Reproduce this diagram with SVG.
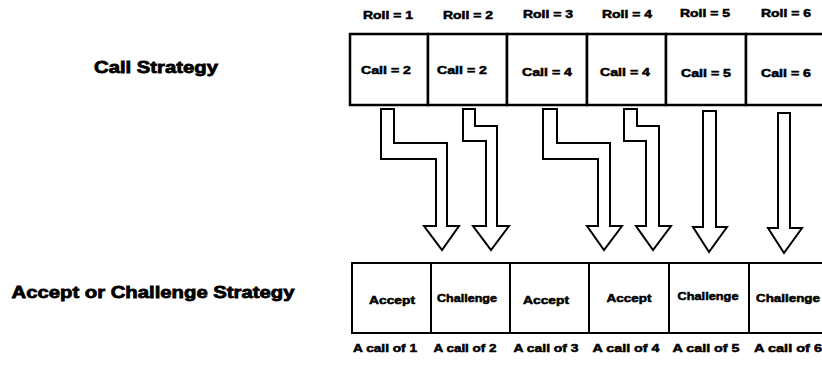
<svg xmlns="http://www.w3.org/2000/svg" width="822" height="365" viewBox="0 0 822 365">
<style>
text{font-family:"Liberation Sans",Arial,sans-serif;font-weight:bold;fill:#000;stroke:#000;stroke-width:0.5;text-anchor:middle}
.big{font-size:17px;stroke-width:0.8}
.sm{font-size:10.5px}
.cellT{fill:#fff;stroke:#000;stroke-width:2.5}
.cellB{fill:#fff;stroke:#000;stroke-width:2}
.arr{fill:#fff;stroke:#000;stroke-width:2;stroke-linejoin:miter}
</style>
<rect width="822" height="365" fill="#fff"/>
<g id="label-call-strategy"><text class="big" x="156" y="73" textLength="124" lengthAdjust="spacingAndGlyphs">Call Strategy</text></g>
<g id="label-accept-strategy"><text class="big" x="153" y="298" font-size="18" textLength="283" lengthAdjust="spacingAndGlyphs">Accept or Challenge Strategy</text></g>

<g id="call1"><text class="sm" x="388" y="19" textLength="50" lengthAdjust="spacingAndGlyphs">Roll = 1</text><rect class="cellT" x="350" y="34" width="78" height="71"/><text class="sm" x="386" y="74" textLength="50" lengthAdjust="spacingAndGlyphs">Call = 2</text></g>
<g id="call2"><text class="sm" x="468" y="19" textLength="50" lengthAdjust="spacingAndGlyphs">Roll = 2</text><rect class="cellT" x="428" y="34" width="79" height="71"/><text class="sm" x="462" y="74" textLength="50" lengthAdjust="spacingAndGlyphs">Call = 2</text></g>
<g id="call3"><text class="sm" x="548" y="18" textLength="50" lengthAdjust="spacingAndGlyphs">Roll = 3</text><rect class="cellT" x="507" y="34" width="80" height="71"/><text class="sm" x="547" y="76" textLength="50" lengthAdjust="spacingAndGlyphs">Call = 4</text></g>
<g id="call4"><text class="sm" x="627" y="18" textLength="50" lengthAdjust="spacingAndGlyphs">Roll = 4</text><rect class="cellT" x="587" y="34" width="79" height="71"/><text class="sm" x="625" y="76" textLength="50" lengthAdjust="spacingAndGlyphs">Call = 4</text></g>
<g id="call5"><text class="sm" x="705" y="17" textLength="50" lengthAdjust="spacingAndGlyphs">Roll = 5</text><rect class="cellT" x="666" y="34" width="80" height="71"/><text class="sm" x="706" y="77" textLength="50" lengthAdjust="spacingAndGlyphs">Call = 5</text></g>
<g id="call6"><text class="sm" x="786" y="17" textLength="50" lengthAdjust="spacingAndGlyphs">Roll = 6</text><rect class="cellT" x="746" y="34" width="82" height="71"/><text class="sm" x="786" y="77" textLength="50" lengthAdjust="spacingAndGlyphs">Call = 6</text></g>

<g id="resp1"><rect class="cellB" x="352" y="263" width="79" height="70"/><text class="sm" x="392" y="304" textLength="46" lengthAdjust="spacingAndGlyphs">Accept</text><text class="sm" x="385" y="352" textLength="64" lengthAdjust="spacingAndGlyphs">A call of 1</text></g>
<g id="resp2"><rect class="cellB" x="431" y="263" width="79" height="70"/><text class="sm" x="467" y="302" textLength="60" lengthAdjust="spacingAndGlyphs">Challenge</text><text class="sm" x="465" y="352" textLength="63" lengthAdjust="spacingAndGlyphs">A call of 2</text></g>
<g id="resp3"><rect class="cellB" x="510" y="263" width="79" height="70"/><text class="sm" x="546" y="304" textLength="46" lengthAdjust="spacingAndGlyphs">Accept</text><text class="sm" x="546" y="352" textLength="65" lengthAdjust="spacingAndGlyphs">A call of 3</text></g>
<g id="resp4"><rect class="cellB" x="589" y="263" width="80" height="70"/><text class="sm" x="629" y="302" textLength="45" lengthAdjust="spacingAndGlyphs">Accept</text><text class="sm" x="626" y="352" textLength="67" lengthAdjust="spacingAndGlyphs">A call of 4</text></g>
<g id="resp5"><rect class="cellB" x="669" y="263" width="80" height="70"/><text class="sm" x="708" y="300" textLength="61" lengthAdjust="spacingAndGlyphs">Challenge</text><text class="sm" x="706" y="352" textLength="67" lengthAdjust="spacingAndGlyphs">A call of 5</text></g>
<g id="resp6"><rect class="cellB" x="749" y="263" width="82" height="70"/><text class="sm" x="788" y="302" textLength="64" lengthAdjust="spacingAndGlyphs">Challenge</text><text class="sm" x="788" y="352" textLength="68" lengthAdjust="spacingAndGlyphs">A call of 6</text></g>

<g id="connectors">
<polygon class="arr" points="381,109 394,109 394,143 447,143 447,226 459,226 442,250 424,226 436,226 436,159 381,159"/>
<polygon class="arr" points="463,109 475,109 475,126 497,126 497,226 509,226 491,250 473,226 486,226 486,141 463,141"/>
<polygon class="arr" points="543,109 557,109 557,143 610,143 610,226 622,226 604,250 587,226 598,226 598,159 543,159"/>
<polygon class="arr" points="624,109 637,109 637,126 659,126 659,226 671,226 653,250 636,226 646,226 646,141 624,141"/>
<polygon class="arr" points="703,111 716,111 716,227 727,227 709,252 693,227 703,227"/>
<polygon class="arr" points="778,113 790,113 790,228 802,228 784,253 768,228 778,228"/>
</g>
</svg>
